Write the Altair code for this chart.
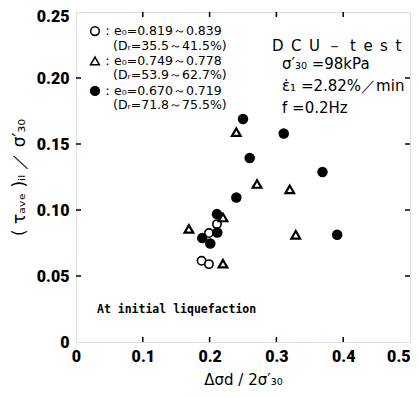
import altair as alt
import pandas as pd

# --- data ---
open_x = [0.211, 0.199, 0.188, 0.199]
open_y = [0.0893, 0.0825, 0.0615, 0.0590]

tri_x = [0.240, 0.271, 0.320, 0.220, 0.169, 0.329, 0.220]
tri_y = [0.1590, 0.1197, 0.1156, 0.0943, 0.0857, 0.0812, 0.0594]

fill_x = [0.250, 0.311, 0.260, 0.369, 0.240, 0.211, 0.391, 0.2115, 0.189, 0.201]
fill_y = [0.1690, 0.1580, 0.1394, 0.1288, 0.1095, 0.0969, 0.0812, 0.0829, 0.0787, 0.0746]

x_ticks = [0.1, 0.2, 0.3, 0.4]
y_ticks = [0.05, 0.10, 0.15, 0.20]

legend_lines1 = ["：e₀=0.819～0.839", "：e₀=0.749～0.778", "：e₀=0.670～0.719"]
legend_lines2 = ["(Dᵣ=35.5～41.5%)", "(Dᵣ=53.9～62.7%)", "(Dᵣ=71.8～75.5%)"]
legend_y1 = [0.2356, 0.2129, 0.1902]
legend_y2 = [0.2246, 0.2019, 0.1792]
legend_shapes = ["circle", "triangle-up", "circle"]
legend_fill = ["white", "white", "black"]

cond_lines = ["D\u2002C\u2002U\u2002－\u2002t\u2002e\u2002s\u2002t", "σ′₃₀ =98kPa", "ε̇₁ =2.82%／min", "f =0.2Hz"]
cond_y = [0.2246, 0.2109, 0.1942, 0.1775]

W, H = 334, 330
XD, YD = [0, 0.5], [0, 0.25]
LABEL_FONT = "Roboto"
TEXT_FONT = "DejaVu Sans"

xs = alt.Scale(domain=XD, nice=False, zero=False)
ys = alt.Scale(domain=YD, nice=False, zero=False)

X = alt.X("x:Q", scale=xs, axis=alt.Axis(
    values=[0, 0.1, 0.2, 0.3, 0.4, 0.5], ticks=False, domain=False, grid=False,
    labelExpr="datum.value == 0 ? '0' : format(datum.value, '.1f')",
    labelAlign=alt.ExprRef(expr="datum.value == 0.5 ? 'right' : 'center'"),
    labelFont=LABEL_FONT, labelFontSize=16, labelFontWeight=900, labelColor="black",
    labelPadding=6, labelFlush=False,
    title="Δσd / 2σ′₃₀", titleFont=TEXT_FONT, titleFontSize=15, titleFontWeight="normal",
    titleColor="black", titlePadding=8))
Y = alt.Y("y:Q", scale=ys, axis=alt.Axis(
    values=[0, 0.05, 0.1, 0.15, 0.2, 0.25], ticks=False, domain=False, grid=False,
    labelExpr="datum.value == 0 ? '0' : format(datum.value, '.2f')",
    labelFont=LABEL_FONT, labelFontSize=16, labelFontWeight=900, labelColor="black",
    labelPadding=7, labelFlush=False, labelBaseline="middle",
    labelOffset=alt.ExprRef(expr="datum.value == 0.25 ? 4 : 0"),
    title="( τₐᵥₑ )ᵢₗ ／ σ′₃₀", titleFont=TEXT_FONT, titleFontSize=17, titleFontWeight="normal",
    titleColor="black", titlePadding=8))

pts_open = pd.DataFrame({"x": open_x, "y": open_y})
pts_tri = pd.DataFrame({"x": tri_x, "y": tri_y})
pts_fill = pd.DataFrame({"x": fill_x, "y": fill_y})

l_open = alt.Chart(pts_open).mark_point(shape="circle", size=70, filled=False,
                                        stroke="black", strokeWidth=1.6, fill="white", fillOpacity=1,
                                        opacity=1).encode(x=X, y=Y)
l_tri = alt.Chart(pts_tri).mark_point(shape="triangle-up", size=75, filled=False,
                                      stroke="black", strokeWidth=2.2, fill="white", fillOpacity=1,
                                      opacity=1).encode(x=X, y=Y)
l_fill = alt.Chart(pts_fill).mark_point(shape="circle", size=110, filled=True,
                                        color="black", opacity=1).encode(x=X, y=Y)

xt = pd.DataFrame({"x": x_ticks})
yt = pd.DataFrame({"y": y_ticks})
tick_b = alt.Chart(xt).mark_rule(color="black", strokeWidth=1.5).encode(
    x=alt.X("x:Q", scale=xs), y=alt.value(H), y2=alt.value(H - 5))
tick_t = alt.Chart(xt).mark_rule(color="black", strokeWidth=1.5).encode(
    x=alt.X("x:Q", scale=xs), y=alt.value(0), y2=alt.value(5))
tick_l = alt.Chart(yt).mark_rule(color="black", strokeWidth=1.5).encode(
    y=alt.Y("y:Q", scale=ys), x=alt.value(0), x2=alt.value(5))
tick_r = alt.Chart(yt).mark_rule(color="black", strokeWidth=1.5).encode(
    y=alt.Y("y:Q", scale=ys), x=alt.value(W), x2=alt.value(W - 5))

leg_sym = pd.DataFrame({"x": [0.0284] * 3, "y": legend_y1, "shape": legend_shapes, "fill": legend_fill})
l_leg_sym = alt.Chart(leg_sym).mark_point(size=75, strokeWidth=1.6, stroke="black", opacity=1,
                                          fillOpacity=1).encode(
    x=alt.X("x:Q", scale=xs), y=alt.Y("y:Q", scale=ys),
    shape=alt.Shape("shape:N", scale=None), fill=alt.Fill("fill:N", scale=None))
leg1 = pd.DataFrame({"x": [0.0374] * 3, "y": legend_y1, "t": legend_lines1})
leg2 = pd.DataFrame({"x": [0.0554] * 3, "y": legend_y2, "t": legend_lines2})
l_leg1 = alt.Chart(leg1).mark_text(align="left", baseline="middle", font=TEXT_FONT,
                                   fontSize=12.5, color="black").encode(
    x=alt.X("x:Q", scale=xs), y=alt.Y("y:Q", scale=ys), text="t:N")
l_leg2 = alt.Chart(leg2).mark_text(align="left", baseline="middle", font=TEXT_FONT,
                                   fontSize=12.5, color="black").encode(
    x=alt.X("x:Q", scale=xs), y=alt.Y("y:Q", scale=ys), text="t:N")

cond = pd.DataFrame({"x": [0.2934, 0.3084, 0.3084, 0.3084], "y": cond_y, "t": cond_lines})
l_cond = alt.Chart(cond).mark_text(align="left", baseline="middle", font=TEXT_FONT,
                                   fontSize=15, color="black").encode(
    x=alt.X("x:Q", scale=xs), y=alt.Y("y:Q", scale=ys), text="t:N")

note = pd.DataFrame({"x": [0.0314], "y": [0.0243], "t": ["At initial liquefaction"]})
l_note = alt.Chart(note).mark_text(align="left", baseline="middle", font="DejaVu Sans Mono",
                                   fontSize=11.5, fontWeight="bold", color="black").encode(
    x=alt.X("x:Q", scale=xs), y=alt.Y("y:Q", scale=ys), text="t:N")

chart = alt.layer(
    l_open, l_tri, l_fill,
    tick_b, tick_t, tick_l, tick_r,
    l_leg_sym, l_leg1, l_leg2, l_cond, l_note,
).properties(
    width=W, height=H,
    autosize=alt.AutoSizeParams(type="none"),
    padding={"left": 68, "top": 4, "right": 1, "bottom": 47},
).configure_view(stroke="black", strokeWidth=2).configure(background="white")

chart.save("out.html", embed_options={"renderer": "svg", "actions": False})
